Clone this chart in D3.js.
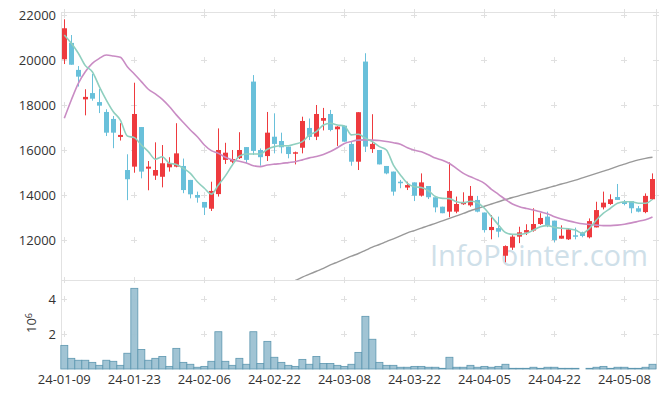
<!DOCTYPE html>
<html>
<head>
<meta charset="utf-8">
<script src="https://cdn.jsdelivr.net/npm/d3@7"></script>
<style>
  body { margin: 0; background: #fff; }
  svg { display: block; font-family: "Open Sans", "Noto Sans", sans-serif; }
</style>
</head>
<body>
<svg id="chart" width="665" height="398"></svg>
<script>
const width = 665;
const height = 398;

// trading days
const dates = [
  "24-01-09","24-01-10","24-01-11","24-01-12","24-01-15","24-01-16","24-01-17","24-01-18","24-01-19","24-01-22",
  "24-01-23","24-01-24","24-01-25","24-01-26","24-01-29","24-01-30","24-01-31","24-02-01","24-02-02","24-02-05",
  "24-02-06","24-02-07","24-02-08","24-02-13","24-02-14","24-02-15","24-02-16","24-02-19","24-02-20","24-02-21",
  "24-02-22","24-02-23","24-02-26","24-02-27","24-02-28","24-02-29","24-03-04","24-03-05","24-03-06","24-03-07",
  "24-03-08","24-03-11","24-03-12","24-03-13","24-03-14","24-03-15","24-03-18","24-03-19","24-03-20","24-03-21",
  "24-03-22","24-03-25","24-03-26","24-03-27","24-03-28","24-03-29","24-04-01","24-04-02","24-04-03","24-04-04",
  "24-04-05","24-04-08","24-04-09","24-04-11","24-04-12","24-04-15","24-04-16","24-04-17","24-04-18","24-04-19",
  "24-04-22","24-04-23","24-04-24","24-04-25","24-04-26","24-04-29","24-04-30","24-05-02","24-05-03","24-05-07",
  "24-05-08","24-05-09","24-05-10","24-05-13","24-05-14"
];

const open = [
  20030,20760,19560,18250,18530,18130,17690,17380,16580,15110,
  15260,17020,15170,14860,14810,15230,15260,15290,14670,14000,
  13690,13390,14040,15560,15480,15640,16130,19040,16000,15730,
  16590,16400,16150,15840,16100,16980,16590,17300,17600,16920,
  17080,16270,15480,19930,16040,16000,15290,15040,14590,14330,
  14560,13970,14400,13900,13480,13260,13260,13590,13540,13780,
  13220,12440,12530,11300,11660,12150,12330,12420,12710,13040,
  12860,12060,12030,12210,12340,12120,12560,13450,13600,13910,
  13700,13730,13410,13240,13810
];
const high = [
  21810,21110,19730,18700,19380,18710,17810,17510,17190,15810,
  18990,17020,15510,16340,16220,15680,17190,15620,14670,14150,
  13690,14590,16960,16320,16000,16790,16130,19330,16070,17690,
  17630,16770,16150,15930,17480,17400,18000,17870,17780,17060,
  17080,16370,17680,20300,17590,16000,15290,15040,14670,14590,
  14560,14960,14400,13900,13480,15450,13930,14120,14400,13960,
  13220,13110,13040,11760,12220,12590,12700,13410,13190,13260,
  12860,12650,12500,12550,12370,12960,13700,14150,14030,14490,
  13780,13730,13510,14070,14960
];
const low = [
  19820,19790,18820,17540,18190,17640,16620,16080,16420,13770,
  14990,14740,14210,14670,14340,15040,15230,14080,13850,13660,
  13110,13290,13930,15380,15410,15600,15410,15780,15300,15510,
  15850,15850,15630,15360,15850,16440,16440,16870,16830,16180,
  16370,15300,15110,15910,15870,15360,14920,13970,14300,14220,
  13730,13930,13820,13230,13190,13010,13190,13560,13480,13230,
  12330,12030,12120,11010,11560,11860,12220,12370,12670,12570,
  11900,12060,12000,12030,12120,12070,12560,13360,13560,13780,
  13540,13190,13230,13190,13780
];
const close = [
  21410,19790,19260,18360,18280,17970,16770,16770,16670,14700,
  17600,15040,15260,15110,15410,15410,15850,14220,14030,13880,
  13440,14180,16000,15880,15600,16000,15560,15960,15680,16770,
  16270,16120,15820,15900,17290,16580,17600,17420,16890,17040,
  16370,15480,17680,16150,16270,15360,14960,14150,14550,14440,
  13970,14560,13900,13450,13190,14180,13600,13690,13960,13260,
  12440,12580,12370,11730,12150,12340,12440,12710,12980,12640,
  12000,12190,12470,12150,12180,12840,13330,13660,13810,13780,
  13600,13410,13260,13960,14710
];

// moving averages
const ma5 = [
  21110,20740,20300,19750,19480,18820,18220,17700,17330,16620,
  16550,16220,15930,15590,15700,15410,15360,15190,14960,14590,
  14300,14040,14440,14850,15330,15730,15820,15820,15820,16030,
  16150,16190,16190,16270,16370,16670,16820,17110,17190,17110,
  17070,16670,16700,16520,16370,16150,16000,15330,14890,14520,
  14370,14330,14190,13930,13850,13840,13700,13660,13720,13660,
  13410,13040,12670,12330,12250,12250,12300,12440,12590,12640,
  12560,12520,12500,12440,12300,12520,12890,13190,13410,13630,
  13700,13700,13630,13630,13810
];
const ma20 = [
  17410,18220,18960,19480,19850,20070,20220,20180,20120,19700,
  19380,19040,18700,18490,18250,17930,17560,17220,16890,16590,
  16220,15970,15850,15680,15560,15500,15420,15300,15260,15330,
  15370,15400,15440,15480,15560,15650,15710,15800,15930,16100,
  16290,16380,16440,16450,16440,16420,16380,16320,16260,16100,
  15990,15920,15790,15640,15540,15400,15180,14960,14810,14680,
  14520,14250,14030,13800,13600,13480,13400,13330,13250,13170,
  13030,12930,12850,12780,12720,12690,12660,12640,12640,12660,
  12700,12760,12830,12900,13020
];
const ma120 = [
  null,null,null,null,null,null,null,null,null,null,
  null,null,null,null,null,null,null,null,null,null,
  null,null,null,null,null,null,null,null,null,null,
  null,null,10070,10200,10350,10480,10610,10740,10890,11020,
  11150,11280,11400,11540,11680,11800,11930,12050,12180,12320,
  12420,12530,12640,12740,12850,12960,13070,13180,13300,13400,
  13500,13600,13700,13800,13890,13970,14060,14140,14230,14310,
  14400,14490,14570,14660,14760,14860,14960,15060,15160,15270,
  15370,15470,15560,15630,15680
];

// volume, in millions
const volume = [
  1.35,0.61,0.50,0.50,0.38,0.21,0.50,0.44,0.21,0.90,
  4.61,1.12,0.50,0.61,0.72,0.15,1.18,0.38,0.27,0.10,
  0.15,0.44,2.13,0.44,0.21,0.61,0.27,2.13,0.32,1.58,
  0.67,0.38,0.21,0.15,0.55,0.27,0.72,0.32,0.32,0.21,
  0.15,0.27,0.95,3.01,1.70,0.38,0.21,0.21,0.10,0.10,
  0.15,0.15,0.10,0.10,0.04,0.67,0.10,0.10,0.21,0.10,
  0.15,0.10,0.15,0.27,0.04,0.04,0.04,0.10,0.04,0.10,
  0.10,0.04,0.04,0.04,0,0.04,0.10,0.15,0.04,0.10,
  0.10,0.04,0.04,0.10,0.27
];

const priceTicks = [12000, 14000, 16000, 18000, 20000, 22000];
const volTicks = [2, 4];
const dateTickIdx = [0, 10, 20, 30, 40, 50, 60, 70, 80];

const plot = { left: 62, right: 656, top: 12, mid: 280, bottom: 369 };

const svg = d3.select("#chart");

const x = d3.scaleLinear().domain([-0.33, 84.5]).range([plot.left, plot.right]);
const y = d3.scaleLinear().domain([10222, 22133]).range([plot.mid, plot.top]);
const yv = d3.scaleLinear().domain([0, 5.086]).range([plot.bottom, plot.mid]);

const gridColor = "#e2e2e2";
const textColor = "#333";

// clip for price panel
svg.append("defs").append("clipPath").attr("id", "clip-price")
  .append("rect")
  .attr("x", plot.left).attr("y", plot.top)
  .attr("width", plot.right - plot.left).attr("height", plot.mid - plot.top);

// frame
const frame = svg.append("g").attr("stroke", gridColor).attr("stroke-width", 1).attr("fill", "none");
frame.append("line").attr("x1", plot.left).attr("x2", plot.right).attr("y1", plot.top + 0.5).attr("y2", plot.top + 0.5);
frame.append("line").attr("x1", plot.left).attr("x2", plot.right).attr("y1", plot.mid + 0.5).attr("y2", plot.mid + 0.5);
frame.append("line").attr("x1", plot.left - 0.5).attr("x2", plot.left - 0.5).attr("y1", plot.top).attr("y2", plot.bottom);
frame.append("line").attr("x1", plot.right + 0.5).attr("x2", plot.right + 0.5).attr("y1", plot.top).attr("y2", plot.bottom);

// small "+" marks where grid lines would cross
const crossY = priceTicks.map(y).concat([plot.top, plot.mid]).concat(volTicks.map(yv));
const crossX = dateTickIdx.map(x).concat([plot.right]);
const crosses = [];
crossX.forEach(cx => crossY.forEach(cy => crosses.push([cx, cy])));
svg.append("g").selectAll("path.cross")
  .data(crosses)
  .enter().append("path")
  .attr("class", "cross")
  .attr("d", d => `M${Math.round(d[0]) - 3},${Math.round(d[1]) + 0.5}h6M${Math.round(d[0]) + 0.5},${Math.round(d[1]) - 3}v6`)
  .attr("stroke", "#e0e0e0")
  .attr("stroke-width", 1);

// watermark
svg.append("text")
  .attr("x", 430)
  .attr("y", 266)
  .attr("textLength", 218)
  .attr("lengthAdjust", "spacingAndGlyphs")
  .style("font-size", "30px")
  .attr("fill", "#cfe0e9")
  .text("InfoPointer.com");

// candles
const candles = svg.append("g").attr("clip-path", "url(#clip-price)");
const idx = d3.range(dates.length);
const upColor = "#ee3a3e";
const downColor = "#69c0da";
const colorOf = i => close[i] >= open[i] ? upColor : downColor;

candles.selectAll("line.wick")
  .data(idx)
  .enter().append("line")
  .attr("class", "wick")
  .attr("x1", i => Math.round(x(i)) + 0.5)
  .attr("x2", i => Math.round(x(i)) + 0.5)
  .attr("y1", i => y(high[i]))
  .attr("y2", i => y(low[i]))
  .attr("stroke", colorOf)
  .attr("stroke-width", 1);

candles.selectAll("rect.body")
  .data(idx)
  .enter().append("rect")
  .attr("class", "body")
  .attr("x", i => Math.round(x(i)) - 2)
  .attr("width", 5)
  .attr("y", i => y(Math.max(open[i], close[i])))
  .attr("height", i => Math.max(1.5, Math.abs(y(open[i]) - y(close[i]))))
  .attr("fill", colorOf);

// moving average lines
const maLine = arr => d3.line()
  .defined(i => arr[i] != null)
  .x(i => x(i))
  .y(i => y(arr[i]))
  .curve(d3.curveMonotoneX);

const lines = svg.append("g").attr("clip-path", "url(#clip-price)").attr("fill", "none");
lines.append("path").attr("d", maLine(ma120)(idx)).attr("stroke", "#999").attr("stroke-width", 1.4);
lines.append("path").attr("d", maLine(ma20)(idx)).attr("stroke", "#c98cc4").attr("stroke-width", 1.6);
lines.append("path").attr("d", maLine(ma5)(idx)).attr("stroke", "#8fcfbf").attr("stroke-width", 1.6);

// volume bars
svg.append("g").selectAll("rect.vol")
  .data(idx)
  .enter().append("rect")
  .attr("class", "vol")
  .attr("x", i => x(i) - 3.5)
  .attr("width", 7)
  .attr("y", i => yv(volume[i]))
  .attr("height", i => yv(0) - yv(volume[i]))
  .attr("fill", "#9cc1d2")
  .attr("fill-opacity", 0.95)
  .attr("stroke", i => volume[i] > 0 ? "#5d97b0" : "none")
  .attr("stroke-width", 0.8);

// price axis labels
svg.append("g").selectAll("text")
  .data(priceTicks)
  .enter().append("text")
  .attr("x", 56)
  .attr("y", d => y(d))
  .attr("dy", "0.35em")
  .attr("text-anchor", "end")
  .attr("fill", textColor)
  .style("font-size", "13px")
  .text(d => d);

// volume axis labels
svg.append("g").selectAll("text")
  .data(volTicks)
  .enter().append("text")
  .attr("x", 56)
  .attr("y", d => yv(d))
  .attr("dy", "0.35em")
  .attr("text-anchor", "end")
  .attr("fill", textColor)
  .style("font-size", "13px")
  .text(d => d);

const unit = svg.append("text")
  .attr("transform", "translate(36,323) rotate(-90)")
  .attr("text-anchor", "middle")
  .attr("fill", textColor)
  .style("font-size", "13px");
unit.append("tspan").text("10");
unit.append("tspan").attr("dy", "-0.5em").style("font-size", "9px").text("6");

// date axis labels
svg.append("g").selectAll("text")
  .data(dateTickIdx)
  .enter().append("text")
  .attr("x", i => x(i))
  .attr("y", 384)
  .attr("text-anchor", "middle")
  .attr("fill", textColor)
  .style("font-size", "13px")
  .text(i => dates[i]);
</script>
</body>
</html>
